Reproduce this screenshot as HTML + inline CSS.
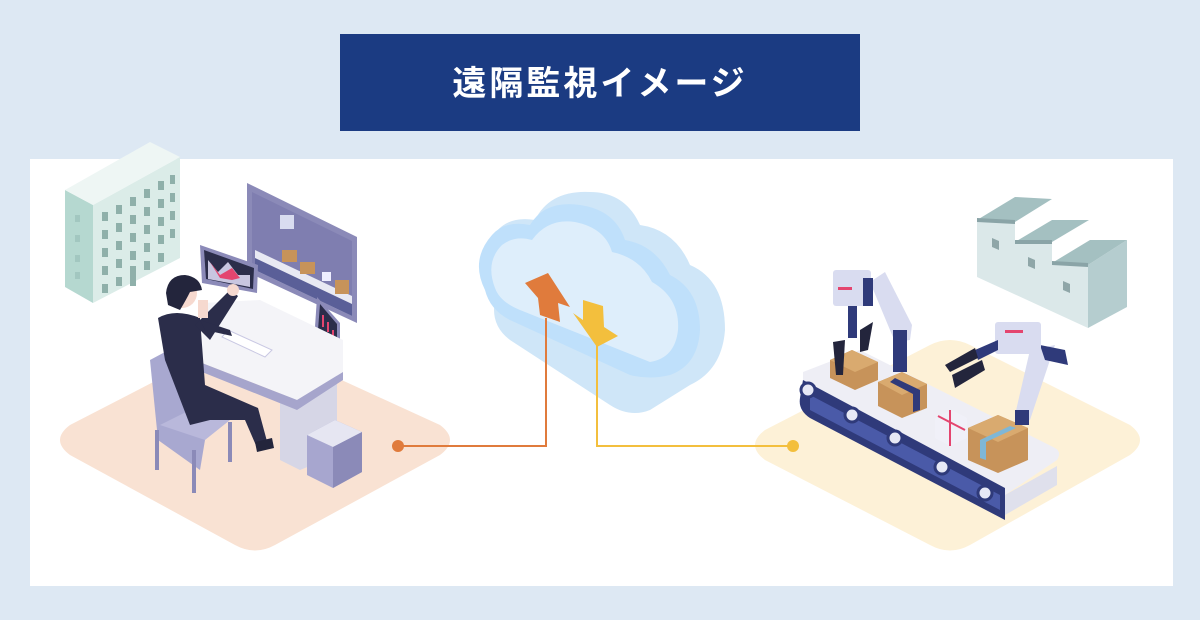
<!DOCTYPE html>
<html><head><meta charset="utf-8"><style>
html,body{margin:0;padding:0;width:1200px;height:620px;overflow:hidden;background:#dde8f3}
</style></head><body>
<svg width="1200" height="620" viewBox="0 0 1200 620" xmlns="http://www.w3.org/2000/svg" style="position:absolute;left:0;top:0">
<rect x="0" y="0" width="1200" height="620" fill="#dde8f3"/>
<rect x="30" y="159" width="1143" height="427" fill="#ffffff"/>
<rect x="340" y="34" width="520" height="97" fill="#1b3b82"/>
<text x="600" y="95" text-anchor="middle" font-family="'Liberation Sans','Noto Sans CJK JP',sans-serif" font-size="34" font-weight="bold" fill="#fff" letter-spacing="3">遠隔監視イメージ</text>

<!-- floors -->
<path d="M70 425 L225 345 Q245 335 265 345 L440 425 Q460 440 440 455 L275 545 Q255 556 235 545 L70 455 Q50 440 70 425Z" fill="#f9e2d3"/>
<path d="M765 430 L930 345 Q950 335 970 345 L1130 425 Q1150 440 1130 455 L970 545 Q950 556 930 545 L765 460 Q745 445 765 430Z" fill="#fdf1d7"/>

<!-- left building -->
<polygon points="65,190 93,205 93,303 65,287" fill="#b5d8d0"/>
<polygon points="93,205 180,157 180,258 93,303" fill="#dbece8"/>
<polygon points="65,190 150,142 180,157 93,205" fill="#eef6f4"/>
<g fill="#8fb0aa">
<rect x="102" y="212" width="6" height="9"/><rect x="116" y="205" width="6" height="9"/><rect x="130" y="197" width="6" height="9"/><rect x="144" y="189" width="6" height="9"/><rect x="158" y="181" width="6" height="9"/><rect x="170" y="175" width="5" height="9"/>
<rect x="102" y="230" width="6" height="9"/><rect x="116" y="223" width="6" height="9"/><rect x="130" y="215" width="6" height="9"/><rect x="144" y="207" width="6" height="9"/><rect x="158" y="199" width="6" height="9"/><rect x="170" y="193" width="5" height="9"/>
<rect x="102" y="248" width="6" height="9"/><rect x="116" y="241" width="6" height="9"/><rect x="130" y="233" width="6" height="9"/><rect x="144" y="225" width="6" height="9"/><rect x="158" y="217" width="6" height="9"/><rect x="170" y="211" width="5" height="9"/>
<rect x="102" y="266" width="6" height="9"/><rect x="116" y="259" width="6" height="9"/><rect x="130" y="251" width="6" height="9"/><rect x="144" y="243" width="6" height="9"/><rect x="158" y="235" width="6" height="9"/><rect x="170" y="229" width="5" height="9"/>
<rect x="102" y="284" width="6" height="9"/><rect x="116" y="277" width="6" height="9"/><rect x="144" y="261" width="6" height="9"/><rect x="158" y="253" width="6" height="9"/>
<rect x="130" y="266" width="6" height="20"/>
</g>
<g fill="#a2c7c0"><rect x="75" y="215" width="5" height="7"/><rect x="75" y="235" width="5" height="7"/><rect x="75" y="255" width="5" height="7"/><rect x="75" y="272" width="5" height="7"/></g>

<!-- right factory -->
<polygon points="977,220 1015,222 1015,242 1052,242 1052,263 1088,265 1088,328 977,277" fill="#dbe8e9"/>
<polygon points="1088,265 1127,240 1127,307 1088,328" fill="#b5cdcf"/>
<polygon points="977,220 1015,222 1052,199 1015,197" fill="#a4c0c1"/>
<polygon points="977,218 1015,220 1015,224 977,222" fill="#8aa4a7"/>
<polygon points="1015,242 1052,242 1089,220 1052,220" fill="#a4c0c1"/>
<polygon points="1015,240 1052,240 1052,244 1015,244" fill="#8aa4a7"/>
<polygon points="1052,263 1088,265 1127,240 1090,240" fill="#a4c0c1"/>
<polygon points="1052,261 1088,263 1088,267 1052,265" fill="#8aa4a7"/>
<g fill="#8fa6a8"><polygon points="992,238 999,241 999,250 992,247"/><polygon points="1028,257 1035,260 1035,269 1028,266"/><polygon points="1063,281 1070,284 1070,293 1063,290"/></g>

<!-- big monitor -->
<polygon points="247,183 357,237 357,323 247,272" fill="#8b8ab8"/>
<polygon points="252,192 352,241 352,315 252,266" fill="#7f7eb0"/>
<polygon points="255,250 352,296 352,316 255,270" fill="#e8e9f3"/>
<polygon points="255,258 352,304 352,316 255,270" fill="#5a5f98"/>
<rect x="280" y="215" width="14" height="14" fill="#d9dcf0"/>
<rect x="282" y="250" width="15" height="12" fill="#c7935a"/>
<rect x="300" y="262" width="15" height="12" fill="#c7935a"/>
<rect x="322" y="272" width="9" height="9" fill="#eef"/>
<rect x="335" y="280" width="14" height="14" fill="#c7935a"/>
<!-- small monitor -->
<polygon points="200,245 258,265 257,293 202,283" fill="#8b8ab8"/>
<polygon points="204,250 254,268 253,289 206,279" fill="#2b2d4a"/>
<polygon points="208,260 218,272 228,262 238,275 250,275 250,287 208,279" fill="#c8c6e0"/>
<polygon points="210,262 220,275 232,268 240,278 232,280 220,278" fill="#e4456f"/>
<!-- side monitor -->
<polygon points="317,297 340,323 340,363 315,327" fill="#8b8ab8"/>
<polygon points="320,304 337,324 337,356 318,330" fill="#2b2d4a"/>
<g fill="#e4456f"><rect x="322" y="315" width="2" height="12"/><rect x="327" y="322" width="2" height="10"/><rect x="332" y="330" width="2" height="12"/></g>

<!-- desk -->
<polygon points="280,380 337,360 337,455 300,470 280,460" fill="#d6d6e6"/>
<polygon points="203,303 260,300 343,340 343,372 297,400 202,363" fill="#f4f4f8"/>
<polygon points="202,363 297,400 343,372 343,380 297,410 202,372" fill="#a6a5cc"/>
<polygon points="228,330 272,350 265,357 222,337" fill="#ffffff" stroke="#c9c8e3"/>
<!-- server -->
<polygon points="307,435 335,420 362,432 362,472 333,488 307,475" fill="#a7a6cf"/>
<polygon points="307,435 335,420 362,432 333,447" fill="#e6e6f2"/>
<polygon points="333,447 362,432 362,472 333,488" fill="#8b8ab8"/>
<!-- chair -->
<polygon points="150,360 165,352 205,440 200,470 158,440" fill="#a8a8d0"/>
<polygon points="160,425 205,440 230,420 200,405" fill="#b9b8db"/>
<rect x="155" y="430" width="4" height="40" fill="#8b8ab8"/>
<rect x="192" y="450" width="4" height="43" fill="#8b8ab8"/>
<rect x="228" y="422" width="4" height="40" fill="#8b8ab8"/>
<!-- person -->
<path d="M158 318 Q175 308 200 318 L205 385 L258 408 L268 445 L258 450 L245 420 L210 420 L190 425 L165 360Z" fill="#2b2d4a"/>
<path d="M195 325 L230 290 L238 296 L210 340Z" fill="#2b2d4a"/>
<circle cx="233" cy="290" r="6" fill="#f6d9cf"/>
<path d="M200 320 L230 330 L232 336 L205 330Z" fill="#2b2d4a"/>
<rect x="198" y="300" width="10" height="18" fill="#f6d9cf"/>
<circle cx="182" cy="293" r="15" fill="#f6d9cf"/>
<path d="M166 293 Q168 275 185 275 Q200 277 202 290 L190 292 Q186 300 180 310 L168 305Z" fill="#23253c"/>
<polygon points="255,442 272,438 274,448 257,452" fill="#23253c"/>

<!-- conveyor -->
<path d="M803 372 L860 350 L1055 448 Q1062 452 1057 460 L1005 495 L803 392Z" fill="#eeeef5"/>
<path d="M803 380 L1005 488 L1005 520 L810 418 Q798 410 800 398Z" fill="#2f3a7a"/>
<path d="M810 395 L1000 495 L1000 510 L810 410Z" fill="#4a5aa8"/>
<path d="M1005 495 L1057 466 L1057 485 L1005 515Z" fill="#dfe0ec"/>
<g fill="#e6e8f5" stroke="#2f3a7a" stroke-width="3"><circle cx="808" cy="390" r="7"/><circle cx="852" cy="415" r="7"/><circle cx="895" cy="438" r="7"/><circle cx="942" cy="467" r="7"/><circle cx="985" cy="493" r="7"/></g>
<!-- boxes -->
<polygon points="830,360 852,350 878,362 878,380 855,390 830,378" fill="#c7935a"/>
<polygon points="830,360 852,350 878,362 855,372" fill="#d9aa6f"/>
<polygon points="878,382 902,372 927,384 927,408 902,418 878,406" fill="#c7935a"/>
<polygon points="878,382 902,372 927,384 902,395" fill="#d9aa6f"/>
<polygon points="895,378 920,390 920,410 913,412 913,394 890,382" fill="#2f3a7a"/>
<polygon points="935,418 952,410 967,418 967,438 950,446 935,438" fill="#f0f0f8"/>
<path d="M950 410 L950 446 M938 416 L965 430" stroke="#e4456f" stroke-width="2"/>
<polygon points="968,428 998,415 1028,428 1028,460 998,473 968,460" fill="#c7935a"/>
<polygon points="968,428 998,415 1028,428 998,442" fill="#d9aa6f"/>
<polygon points="980,440 1010,426 1016,428 986,442 986,460 980,458" fill="#7fb7d6"/>
<!-- robot 1 -->
<path d="M870 282 L885 272 L912 325 L910 340 L895 342 Z" fill="#d9dcf0"/>
<rect x="893" y="330" width="14" height="42" fill="#2f3a7a"/>
<rect x="833" y="270" width="38" height="36" rx="3" fill="#d9dcf0"/>
<rect x="863" y="278" width="10" height="28" fill="#2f3a7a"/>
<rect x="838" y="287" width="14" height="3" fill="#e4456f"/>
<rect x="848" y="306" width="9" height="32" fill="#2f3a7a"/>
<polygon points="833,342 845,340 843,375 836,375" fill="#23253c"/>
<polygon points="860,330 873,322 868,350 860,352" fill="#23253c"/>
<!-- robot 2 -->
<path d="M1030 350 L1055 345 L1030 420 L1015 415 Z" fill="#d9dcf0"/>
<polygon points="1040,345 1065,350 1068,365 1045,360" fill="#2f3a7a"/>
<rect x="1015" y="410" width="14" height="15" fill="#2f3a7a"/>
<rect x="995" y="322" width="46" height="32" rx="3" fill="#d9dcf0"/>
<rect x="1005" y="330" width="18" height="3" fill="#e4456f"/>
<polygon points="975,350 998,340 998,350 978,360" fill="#2f3a7a"/>
<polygon points="945,365 975,348 978,358 950,372" fill="#23253c"/>
<polygon points="952,375 982,360 985,370 955,388" fill="#23253c"/>

<!-- cloud -->
<path d="M495 300 Q470 270 492 238 Q505 215 535 220 Q550 190 590 192 Q625 192 640 225 Q675 230 690 265 Q725 280 725 330 Q722 370 690 385 L650 410 Q630 418 610 405 L510 340 Q490 325 495 300Z" fill="#cfe6f8"/>
<path d="M485 290 Q470 260 492 235 Q505 220 530 225 Q545 200 580 205 Q615 210 625 240 Q655 245 670 275 Q700 290 700 330 Q698 365 670 375 Q650 380 630 375 L510 320 Q490 310 485 290Z" fill="#bfe0fb"/>
<path d="M495 288 Q485 262 502 245 Q515 235 532 240 Q548 218 575 222 Q605 228 612 252 Q640 258 652 282 Q680 298 678 330 Q675 358 650 362 L520 310 Q500 302 495 288Z" fill="#deeefb"/>

<!-- connectors -->
<polyline points="398,446 546,446 546,318" fill="none" stroke="#e07b3c" stroke-width="2"/>
<polyline points="793,446 597,446 597,345" fill="none" stroke="#f3bf3d" stroke-width="2"/>
<circle cx="398" cy="446" r="6" fill="#e07b3c"/>
<circle cx="793" cy="446" r="6" fill="#f3bf3d"/>
<polygon points="525,283 548,273 570,307 558,303 560,322 540,315 538,298" fill="#e07b3c"/>
<polygon points="573,313 583,320 583,300 603,306 604,327 618,336 597,347" fill="#f3bf3d"/>
</svg>
</body></html>
